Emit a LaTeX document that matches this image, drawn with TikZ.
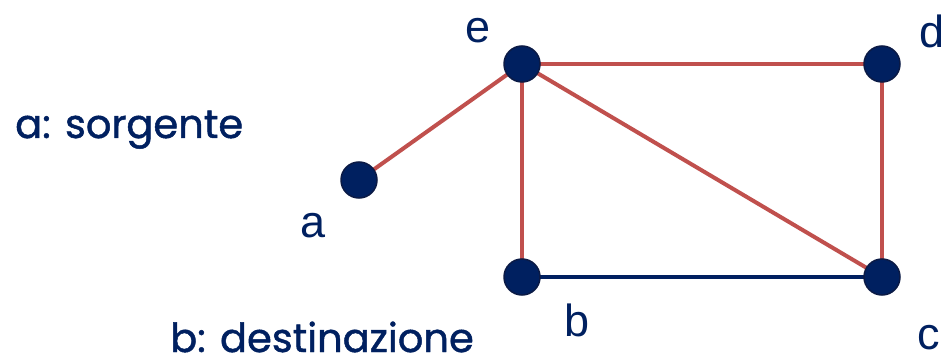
\documentclass[tikz,border=0pt]{standalone}
\usepackage{fontspec}
\setmainfont{Liberation Sans}
\newfontfamily\legendfont[FakeBold=1.2]{Poppins}
\definecolor{navy}{HTML}{002060}
\definecolor{navyedge}{HTML}{0B1A45}
\definecolor{edgered}{HTML}{C0504D}
\begin{document}
\begin{tikzpicture}[x=1pt,y=-1pt,
  vertex/.style={circle,fill=navy,draw=navyedge,line width=1.5pt,minimum size=36pt,inner sep=0pt},
  redlink/.style={edgered,line width=4pt},
  bluelink/.style={navy,line width=3.2pt},
  vlabel/.style={text=navy,font=\fontsize{45}{54}\selectfont,inner sep=0pt},
  legend/.style={text=navy,font=\legendfont\fontsize{40}{48}\selectfont,inner sep=0pt,anchor=base west}]
\useasboundingbox (0,0) rectangle (941,358);
% links
\coordinate (pa) at (359,180);
\coordinate (pe) at (522,64);
\coordinate (pd) at (882,64);
\coordinate (pb) at (522,277);
\coordinate (pc) at (882,277);
\draw[redlink] (pa) -- (pe);
\draw[redlink] (pe) -- (pd);
\draw[redlink] (pe) -- (pb);
\draw[redlink] (pe) -- (pc);
\draw[redlink] (pd) -- (pc);
\draw[bluelink] (pb) -- (pc);
% vertices
\node[vertex] (a) at (pa) {};
\node[vertex] (e) at (pe) {};
\node[vertex] (d) at (pd) {};
\node[vertex] (b) at (pb) {};
\node[vertex] (c) at (pc) {};
% vertex names
\node[vlabel] (la) at (313,226) {a};
\node[vlabel] (le) at (478,31) {e};
\node[vlabel,anchor=west] (ld) at (919,31) {d};
\node[vlabel] (lb) at (577,320) {b};
\node[vlabel,anchor=west] (lc) at (917,338) {c};
% legend
\node[legend] (src) at (15,138) {a: sorgente};
\node[legend] (dst) at (170,352) {b: destinazione};
\end{tikzpicture}
\end{document}
